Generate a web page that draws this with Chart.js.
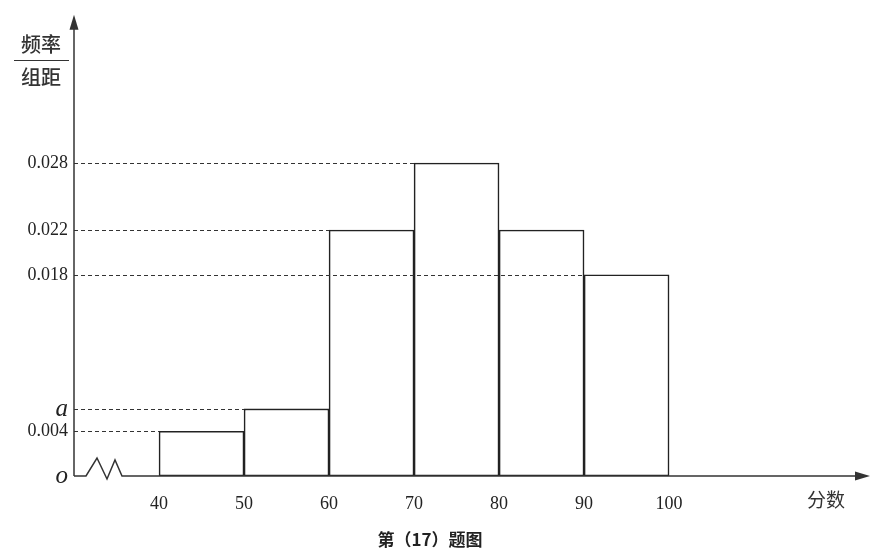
<!DOCTYPE html>
<html>
<head>
<meta charset="utf-8">
<script src="https://cdn.jsdelivr.net/npm/chart.js@4.4.1/dist/chart.umd.min.js"></script>
<style>
  html, body { margin: 0; padding: 0; background: #ffffff; }
  #wrap { width: 874px; height: 552px; }
</style>
</head>
<body>
<div id="wrap"><canvas id="c" width="874" height="552"></canvas></div>
<script>
// ---- data ----
const binStarts = [40, 50, 60, 70, 80, 90];
const binWidth = 10;
const densities = [0.004, 0.006, 0.022, 0.028, 0.022, 0.018]; // a = 0.006
const xTickValues = [40, 50, 60, 70, 80, 90, 100];
const yTickValues = [0, 0.004, 0.006, 0.018, 0.022, 0.028];
const yTickLabels = ['o', '0.004', 'a', '0.018', '0.022', '0.028'];
const dashedValues = [0.004, 0.006, 0.018, 0.022, 0.028];
const yAxisLabelTop = '频率';
const yAxisLabelBottom = '组距';
const xAxisLabel = '分数';
const captionText = '第（17）题图';

const axisColor = '#333333';

const barData = binStarts.map((s, i) => ({ x: s + binWidth / 2, y: densities[i] }));

const drawingPlugin = {
  id: 'histDecor',
  afterDatasetsDraw(chart) {
    const ctx = chart.ctx;
    const xs = chart.scales.x, ys = chart.scales.y;
    const area = chart.chartArea;
    const x0 = area.left, y0 = ys.getPixelForValue(0);
    ctx.save();
    // dashed reference lines
    ctx.strokeStyle = axisColor;
    ctx.lineWidth = 1;
    ctx.setLineDash([4, 3]);
    dashedValues.forEach(v => {
      const idx = densities.indexOf(v);
      const xe = xs.getPixelForValue(binStarts[idx]);
      const yp = Math.round(ys.getPixelForValue(v)) + 0.5;
      ctx.beginPath();
      ctx.moveTo(x0, yp);
      ctx.lineTo(xe, yp);
      ctx.stroke();
    });
    ctx.setLineDash([]);
    // axes
    ctx.lineWidth = 1.5;
    ctx.strokeStyle = axisColor;
    ctx.fillStyle = axisColor;
    // y axis
    ctx.beginPath();
    ctx.moveTo(x0, y0);
    ctx.lineTo(x0, area.top + 8);
    ctx.stroke();
    ctx.beginPath();
    ctx.moveTo(x0, area.top - 2);
    ctx.lineTo(x0 - 4.5, area.top + 13);
    ctx.lineTo(x0 + 4.5, area.top + 13);
    ctx.closePath();
    ctx.fill();
    // x axis with zigzag break
    ctx.beginPath();
    ctx.moveTo(x0, y0);
    ctx.lineTo(x0 + 12, y0);
    ctx.lineTo(x0 + 23, y0 - 18);
    ctx.lineTo(x0 + 33, y0 + 3);
    ctx.lineTo(x0 + 41, y0 - 16);
    ctx.lineTo(x0 + 48, y0);
    ctx.lineTo(area.right - 8, y0);
    ctx.stroke();
    ctx.beginPath();
    ctx.moveTo(area.right + 2, y0);
    ctx.lineTo(area.right - 13, y0 - 4.5);
    ctx.lineTo(area.right - 13, y0 + 4.5);
    ctx.closePath();
    ctx.fill();
    // y axis label as a fraction
    ctx.fillStyle = '#333333';
    ctx.font = '500 20px "Noto Sans CJK SC"';
    ctx.textAlign = 'center';
    ctx.textBaseline = 'middle';
    ctx.fillText(yAxisLabelTop, 41, 44);
    ctx.fillText(yAxisLabelBottom, 41, 77);
    ctx.lineWidth = 1.2;
    ctx.beginPath();
    ctx.moveTo(14, 60.5);
    ctx.lineTo(69, 60.5);
    ctx.stroke();
    // x axis label
    ctx.font = '19px "Noto Sans CJK SC"';
    ctx.fillText(xAxisLabel, 826, 500);
    // caption
    ctx.fillStyle = '#222222';
    ctx.font = 'bold 17px "Noto Sans CJK SC"';
    ctx.fillText(captionText, 430, 540);
    ctx.restore();
  }
};

new Chart(document.getElementById('c'), {
  type: 'bar',
  data: {
    datasets: [{
      data: barData,
      backgroundColor: '#ffffff',
      borderColor: '#222222',
      borderWidth: 1.6,
      borderSkipped: false,
      barPercentage: 1,
      categoryPercentage: 1
    }]
  },
  options: {
    responsive: false,
    animation: false,
    layout: { padding: { left: 0, right: 6, top: 6, bottom: 0 } },
    plugins: { legend: { display: false }, tooltip: { enabled: false }, title: { display: false } },
    scales: {
      x: {
        type: 'linear',
        offset: false,
        min: 30,
        max: 123.4,
        grid: { display: false, drawTicks: false, offset: false },
        border: { display: false },
        afterBuildTicks: (scale) => { scale.ticks = xTickValues.map(v => ({ value: v })); },
        afterFit: (scale) => { scale.height = 76; },
        ticks: {
          autoSkip: false,
          maxRotation: 0,
          padding: 17,
          color: '#222222',
          font: { family: '"Liberation Serif"', size: 18 }
        }
      },
      y: {
        type: 'linear',
        min: 0,
        max: 0.04108,
        grid: { display: false, drawTicks: false },
        border: { display: false },
        afterBuildTicks: (scale) => { scale.ticks = yTickValues.map(v => ({ value: v })); },
        afterFit: (scale) => { scale.width = 74; },
        ticks: {
          autoSkip: false,
          padding: 6,
          color: '#222222',
          callback: (value) => {
            const i = yTickValues.findIndex(v => Math.abs(v - value) < 1e-9);
            return i >= 0 ? yTickLabels[i] : '';
          },
          font: (ctx) => {
            const v = ctx.tick ? ctx.tick.value : null;
            if (v === 0 || (v !== null && Math.abs(v - 0.006) < 1e-9)) {
              return { family: '"Liberation Serif"', size: 25, style: 'italic' };
            }
            return { family: '"Liberation Serif"', size: 18 };
          }
        }
      }
    }
  },
  plugins: [drawingPlugin]
});
</script>
</body>
</html>
